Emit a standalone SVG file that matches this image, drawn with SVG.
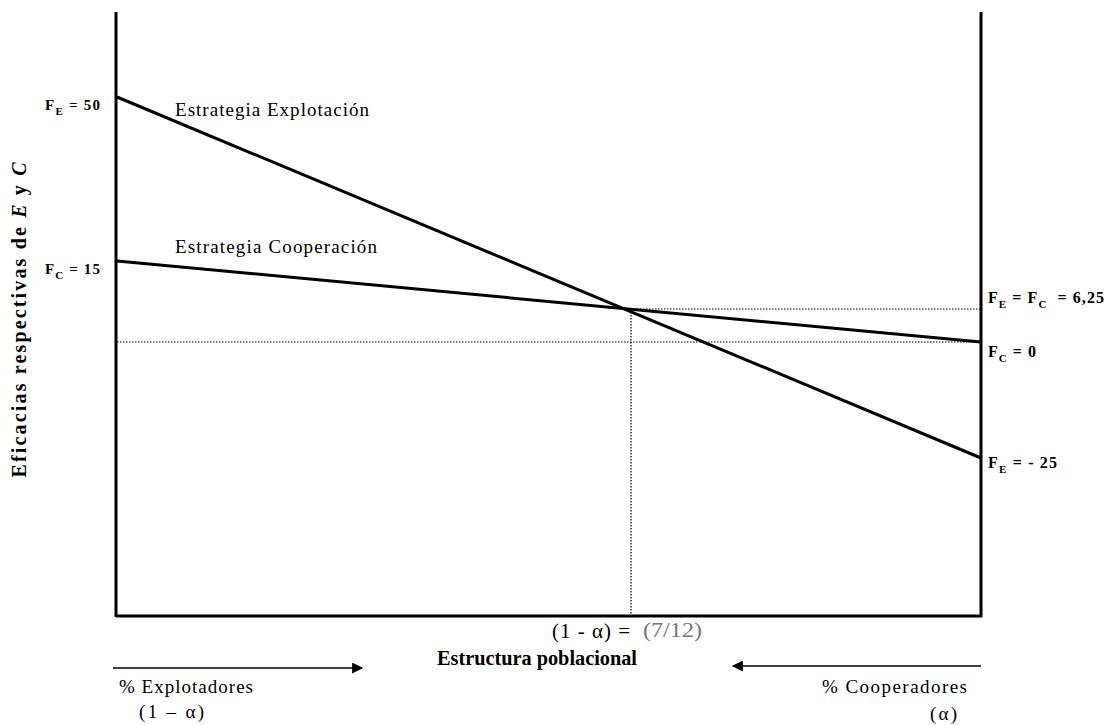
<svg xmlns="http://www.w3.org/2000/svg" width="1109" height="725" viewBox="0 0 1109 725">
  <style>
    .axis { stroke: #000; stroke-width: 3; fill: none; }
    .line { stroke: #000; stroke-width: 3; fill: none; }
    .dot { stroke: #000; stroke-width: 1.2; stroke-dasharray: 1.5 1.5; fill: none; }
    .arrow { stroke: #000; stroke-width: 1.4; fill: none; }
    text { font-family: "Liberation Serif", "Times New Roman", serif; fill: #000; }
    .n { font-size: 19px; }
    .b { font-weight: bold; font-size: 15px; }
    .br { font-weight: bold; font-size: 16px; }
    .sub { font-size: 11px; }
  </style>
  <defs>
    <marker id="ah" viewBox="0 0 10 10" refX="9" refY="5" markerWidth="12" markerHeight="11" markerUnits="userSpaceOnUse" orient="auto">
      <path d="M0,0 L10,5 L0,10 Z" fill="#000"/>
    </marker>
  </defs>

  <!-- axes frame -->
  <g id="axes">
    <line class="axis" x1="116" y1="12" x2="116" y2="617"/>
    <line class="axis" x1="981" y1="12" x2="981" y2="617"/>
    <line class="axis" x1="116" y1="616" x2="982" y2="616"/>
  </g>

  <!-- reference lines, strategy curves and direction arrows -->
  <g id="connectors">
    <line class="dot" x1="631" y1="309" x2="981" y2="309"/>
    <line class="dot" x1="117" y1="342" x2="981" y2="342"/>
    <line class="dot" x1="631" y1="309" x2="631" y2="616"/>
    <line class="line" x1="117" y1="97" x2="981" y2="458"/>
    <line class="line" x1="117" y1="261" x2="981" y2="342"/>
    <line class="arrow" x1="113" y1="668" x2="362" y2="668" marker-end="url(#ah)"/>
    <line class="arrow" x1="981" y1="666" x2="733" y2="666" marker-end="url(#ah)"/>
  </g>

  <g id="strategy-labels">
    <text class="n" x="175" y="116" textLength="194" lengthAdjust="spacing">Estrategia Explotación</text>
    <text class="n" x="175" y="253" textLength="202" lengthAdjust="spacing">Estrategia Cooperación</text>
  </g>

  <g id="left-values">
    <text class="b" x="45" y="110" textLength="55" lengthAdjust="spacing">F<tspan class="sub" dy="5">E</tspan><tspan dy="-5"> = 50</tspan></text>
    <text class="b" x="45" y="274" textLength="55" lengthAdjust="spacing">F<tspan class="sub" dy="5">C</tspan><tspan dy="-5"> = 15</tspan></text>
  </g>

  <g id="right-values">
    <text class="br" x="988" y="303" textLength="116" lengthAdjust="spacing">F<tspan class="sub" dy="5">E</tspan><tspan dy="-5"> = F</tspan><tspan class="sub" dy="5">C</tspan><tspan dy="-5" xml:space="preserve">  = 6,25</tspan></text>
    <text class="br" x="988" y="357" textLength="48" lengthAdjust="spacing">F<tspan class="sub" dy="5">C</tspan><tspan dy="-5"> = 0</tspan></text>
    <text class="br" x="988" y="468" textLength="69" lengthAdjust="spacing">F<tspan class="sub" dy="5">E</tspan><tspan dy="-5"> = - 25</tspan></text>
  </g>

  <g id="y-title">
    <text class="b" style="font-size:20px" transform="translate(26,320) rotate(-90)" text-anchor="middle" textLength="315" lengthAdjust="spacing">Eficacias respectivas de <tspan font-style="italic">E</tspan> y <tspan font-style="italic">C</tspan></text>
  </g>

  <g id="x-title">
    <text x="552" y="638" style="font-size:21px" textLength="78" lengthAdjust="spacing">(1 - α) =</text>
    <text x="643" y="637" style="font-size:20px;fill:#777" textLength="59" lengthAdjust="spacingAndGlyphs">(7/12)</text>
    <text class="b" x="437" y="665" style="font-size:20px" textLength="200" lengthAdjust="spacingAndGlyphs">Estructura poblacional</text>
  </g>

  <g id="population-share">
    <text class="n" x="119" y="693" textLength="134" lengthAdjust="spacing">% Explotadores</text>
    <text class="n" x="139" y="718" textLength="65" lengthAdjust="spacing">(1 – α)</text>
    <text class="n" x="822" y="693" textLength="145" lengthAdjust="spacing">% Cooperadores</text>
    <text class="n" x="930" y="720" textLength="27" lengthAdjust="spacing">(α)</text>
  </g>
</svg>
